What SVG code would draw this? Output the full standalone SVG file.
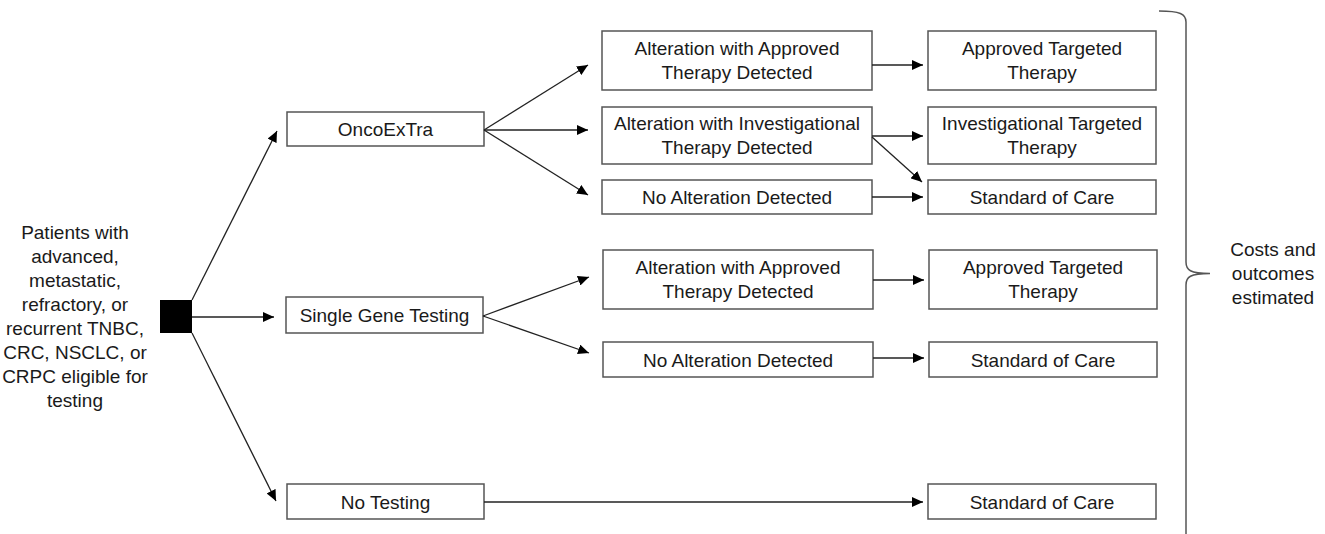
<svg xmlns="http://www.w3.org/2000/svg" width="1325" height="534" viewBox="0 0 1325 534">
<defs>
<marker id="ah" markerUnits="userSpaceOnUse" markerWidth="12" markerHeight="10" refX="11" refY="5" orient="auto">
<path d="M0,0 L11,5 L0,10 Z" fill="#000"/>
</marker>
<style>
.box{fill:#fff;stroke:#555;stroke-width:1.5}
.t{font-family:"Liberation Sans",Arial,sans-serif;font-size:19px;fill:#1a1a1a;text-anchor:middle}
.c{stroke:#222;stroke-width:1.3;fill:none;marker-end:url(#ah)}
</style>
</defs>
<rect width="1325" height="534" fill="#fff"/>

<g id="patients">
<text class="t" x="75"><tspan x="75" y="239">Patients with</tspan><tspan x="75" y="263">advanced,</tspan><tspan x="75" y="287">metastatic,</tspan><tspan x="75" y="311">refractory, or</tspan><tspan x="75" y="335">recurrent TNBC,</tspan><tspan x="75" y="359">CRC, NSCLC, or</tspan><tspan x="75" y="383">CRPC eligible for</tspan><tspan x="75" y="407">testing</tspan></text>
</g>
<g id="decision"><rect x="160" y="300" width="32" height="33" fill="#000"/></g>

<g id="oncoextra"><rect class="box" x="287" y="112" width="197" height="34"/><text class="t" x="385.5" y="136">OncoExTra</text></g>
<g id="single"><rect class="box" x="286" y="297" width="197" height="36"/><text class="t" x="384.5" y="322">Single Gene Testing</text></g>
<g id="notesting"><rect class="box" x="287" y="484" width="197" height="35"/><text class="t" x="385.5" y="508.5">No Testing</text></g>

<g id="o-approved"><rect class="box" x="602" y="31" width="270" height="59"/><text class="t"><tspan x="737" y="55">Alteration with Approved</tspan><tspan x="737" y="79">Therapy Detected</tspan></text></g>
<g id="o-invest"><rect class="box" x="602" y="107" width="270" height="57"/><text class="t"><tspan x="737" y="130">Alteration with Investigational</tspan><tspan x="737" y="154">Therapy Detected</tspan></text></g>
<g id="o-none"><rect class="box" x="602" y="180" width="270" height="34"/><text class="t" x="737" y="204">No Alteration Detected</text></g>
<g id="s-approved"><rect class="box" x="603" y="250" width="270" height="59"/><text class="t"><tspan x="738" y="274">Alteration with Approved</tspan><tspan x="738" y="298">Therapy Detected</tspan></text></g>
<g id="s-none"><rect class="box" x="603" y="342" width="270" height="35"/><text class="t" x="738" y="366.5">No Alteration Detected</text></g>

<g id="r-approved1"><rect class="box" x="928" y="31" width="228" height="59"/><text class="t"><tspan x="1042" y="55">Approved Targeted</tspan><tspan x="1042" y="79">Therapy</tspan></text></g>
<g id="r-invest"><rect class="box" x="928" y="107" width="228" height="57"/><text class="t"><tspan x="1042" y="130">Investigational Targeted</tspan><tspan x="1042" y="154">Therapy</tspan></text></g>
<g id="r-soc1"><rect class="box" x="928" y="180" width="228" height="34"/><text class="t" x="1042" y="204">Standard of Care</text></g>
<g id="r-approved2"><rect class="box" x="929" y="250" width="228" height="59"/><text class="t"><tspan x="1043" y="274">Approved Targeted</tspan><tspan x="1043" y="298">Therapy</tspan></text></g>
<g id="r-soc2"><rect class="box" x="929" y="342" width="228" height="35"/><text class="t" x="1043" y="366.5">Standard of Care</text></g>
<g id="r-soc3"><rect class="box" x="928" y="484" width="228" height="35"/><text class="t" x="1042" y="508.5">Standard of Care</text></g>

<g id="brace">
<path d="M1159,11 C1180,11 1186,14 1186,22 L1186,262 C1186,270 1190,273.5 1210,273.5 C1190,273.5 1186,277 1186,285 L1186,534" fill="none" stroke="#555" stroke-width="1.5"/>
<text class="t"><tspan x="1273" y="256">Costs and</tspan><tspan x="1273" y="280">outcomes</tspan><tspan x="1273" y="304">estimated</tspan></text>
</g>

<g id="connectors">
<line class="c" x1="192" y1="300" x2="277" y2="131"/>
<line class="c" x1="192" y1="317" x2="274" y2="317"/>
<line class="c" x1="192" y1="333" x2="276" y2="501"/>
<line class="c" x1="484" y1="130" x2="588" y2="65"/>
<line class="c" x1="484" y1="130" x2="588" y2="130"/>
<line class="c" x1="484" y1="130" x2="588" y2="195"/>
<line class="c" x1="483" y1="316" x2="589" y2="277"/>
<line class="c" x1="483" y1="316" x2="589" y2="353"/>
<line class="c" x1="484" y1="502" x2="923" y2="502"/>
<line class="c" x1="872" y1="65" x2="923" y2="65"/>
<line class="c" x1="872" y1="136" x2="923" y2="136"/>
<line class="c" x1="872" y1="137" x2="922" y2="182"/>
<line class="c" x1="872" y1="197" x2="923" y2="197"/>
<line class="c" x1="873" y1="280" x2="924" y2="280"/>
<line class="c" x1="873" y1="358" x2="924" y2="358"/>
</g>
</svg>
